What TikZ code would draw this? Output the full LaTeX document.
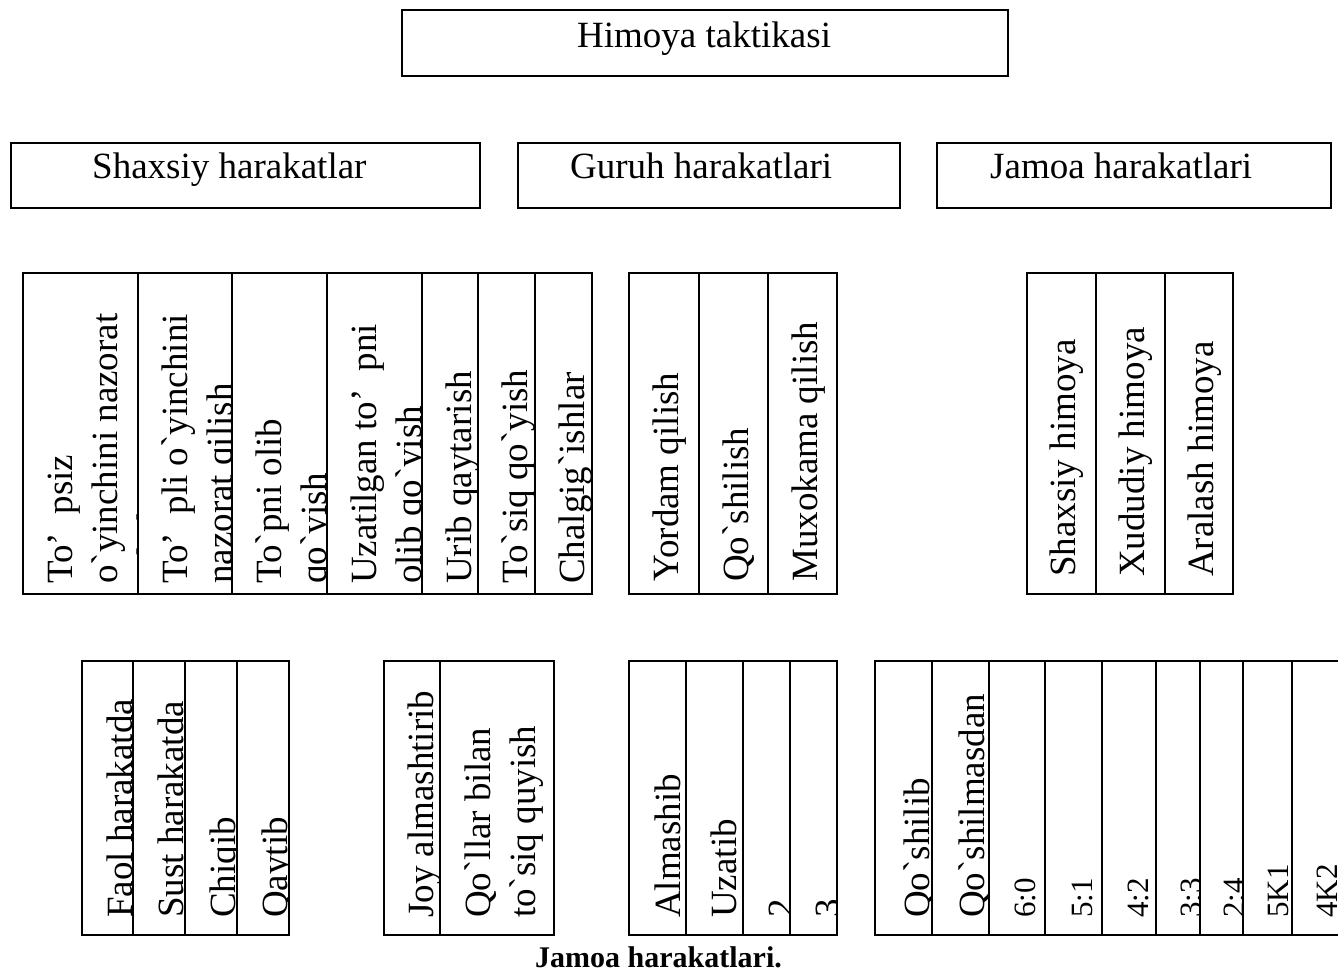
\documentclass[tikz,border=0pt]{standalone}
\usepackage{fontspec}
\setmainfont{Liberation Serif}[Ligatures=TeXOff]
\newcommand\cellclip[5]{\begin{scope}\clip (#1,#3) rectangle (#2,#4); #5\end{scope}\draw[cell] (#1,#3) rectangle (#2,#4);}
\begin{document}
\begin{tikzpicture}[x=1pt,y=-1pt,
  cell/.style={draw=black,line width=2.6pt},
  vt/.style={rotate=90,anchor=base west,inner sep=0pt,font=\fontsize{37}{45}\selectfont},
  vn/.style={vt,font=\fontsize{31}{38}\selectfont},
  ht/.style={anchor=base west,inner sep=0pt,font=\fontsize{37}{45}\selectfont}]
\useasboundingbox (0,0) rectangle (1338,974);

% header boxes
\draw[cell] (402,10) rectangle (1008,76);
\node[ht] (himoya) at (577,48) {Himoya taktikasi};
\draw[cell] (11,143) rectangle (480,208);
\node[ht] (shaxsiy) at (92,178) {Shaxsiy harakatlar};
\draw[cell] (518,143) rectangle (900,208);
\node[ht] (guruh) at (570,178) {Guruh harakatlari};
\draw[cell] (937,143) rectangle (1331,208);
\node[ht] (jamoa) at (990,178) {Jamoa harakatlari};

% Shaxsiy columns
\cellclip{23}{138}{273}{594}{\node[vt] (s1a) at (72,584) {To’~~psiz};
  \node[vt] (s1b) at (117,584) {o`yinchini nazorat};
  \node[vt] (s1c) at (162,584) {qilish};}
\cellclip{138}{232}{273}{594}{\node[vt] (s2a) at (187,584) {To’~~pli o`yinchini};
  \node[vt] (s2b) at (232,584) {nazorat qilish};}
\cellclip{232}{327}{273}{594}{\node[vt] (s3a) at (281,584) {To`pni olib};
  \node[vt] (s3b) at (326,584) {qo`yish};}
\cellclip{327}{422}{273}{594}{\node[vt] (s4a) at (376,584) {Uzatilgan to’~~pni};
  \node[vt] (s4b) at (421,584) {olib qo`yish};}
\cellclip{422}{478}{273}{594}{\node[vt] (s5) at (471,584) {Urib qaytarish};}
\cellclip{478}{535}{273}{594}{\node[vt] (s6) at (527,584) {To`siq qo`yish};}
\cellclip{535}{592}{273}{594}{\node[vt] (s7) at (584,584) {Chalgig`ishlar};}

% Guruh columns
\cellclip{629}{699}{273}{594}{\node[vt] (g1) at (678,582) {Yordam qilish};}
\cellclip{699}{768}{273}{594}{\node[vt] (g2) at (748,582) {Qo`shilish};}
\cellclip{768}{837}{273}{594}{\node[vt] (g3) at (817,582) {Muxokama qilish};}

% Jamoa columns
\cellclip{1027}{1096}{273}{594}{\node[vt] (j1) at (1075,577) {Shaxsiy himoya};}
\cellclip{1096}{1165}{273}{594}{\node[vt] (j2) at (1144,577) {Xududiy himoya};}
\cellclip{1165}{1233}{273}{594}{\node[vt] (j3) at (1213,577) {Aralash himoya};}

% bottom row
\cellclip{82}{133}{661}{935}{\node[vt] (b1) at (132,918) {Faol harakatda};}
\cellclip{133}{185}{661}{935}{\node[vt] (b2) at (183,918) {Sust harakatda};}
\cellclip{185}{237}{661}{935}{\node[vt] (b3) at (235,918) {Chiqib};}
\cellclip{237}{289}{661}{935}{\node[vt] (b4) at (287,918) {Qaytib};}

\cellclip{384}{440}{661}{935}{\node[vt] (b5) at (433,918) {Joy almashtirib};}
\cellclip{440}{554}{661}{935}{\node[vt] (b6a) at (490,918) {Qo`llar bilan};
  \node[vt] (b6b) at (535,918) {to`siq quyish};}

\cellclip{629}{686}{661}{935}{\node[vt] (b7) at (680,918) {Almashib};}
\cellclip{686}{743}{661}{935}{\node[vt] (b8) at (736,918) {Uzatib};}
\cellclip{743}{790}{661}{935}{\node[vt] (b9) at (793,918) {2};}
\cellclip{790}{837}{661}{935}{\node[vt] (b10) at (840,918) {3};}

\cellclip{875}{932}{661}{935}{\node[vt] (c1) at (929,918) {Qo`shilib};}
\cellclip{932}{989}{661}{935}{\node[vt] (c2) at (984,918) {Qo`shilmasdan};}
\cellclip{989}{1045}{661}{935}{\node[vn] (c3) at (1035,918) {6:0};}
\cellclip{1045}{1102}{661}{935}{\node[vn] (c4) at (1092,918) {5:1};}
\cellclip{1102}{1156}{661}{935}{\node[vn] (c5) at (1148,918) {4:2};}
\cellclip{1156}{1200}{661}{935}{\node[vn] (c6) at (1201,918) {3:3};}
\cellclip{1200}{1243}{661}{935}{\node[vn] (c7) at (1244,918) {2:4};}
\cellclip{1243}{1292}{661}{935}{\node[vn] (c8) at (1288,918) {5K1};}
\cellclip{1292}{1350}{661}{935}{\node[vn] (c9) at (1337,918) {4K2};}

% caption
\node[anchor=base west,inner sep=0pt,font=\fontsize{30}{36}\selectfont\bfseries] (caption) at (535,967) {Jamoa harakatlari.};
\end{tikzpicture}
\end{document}
